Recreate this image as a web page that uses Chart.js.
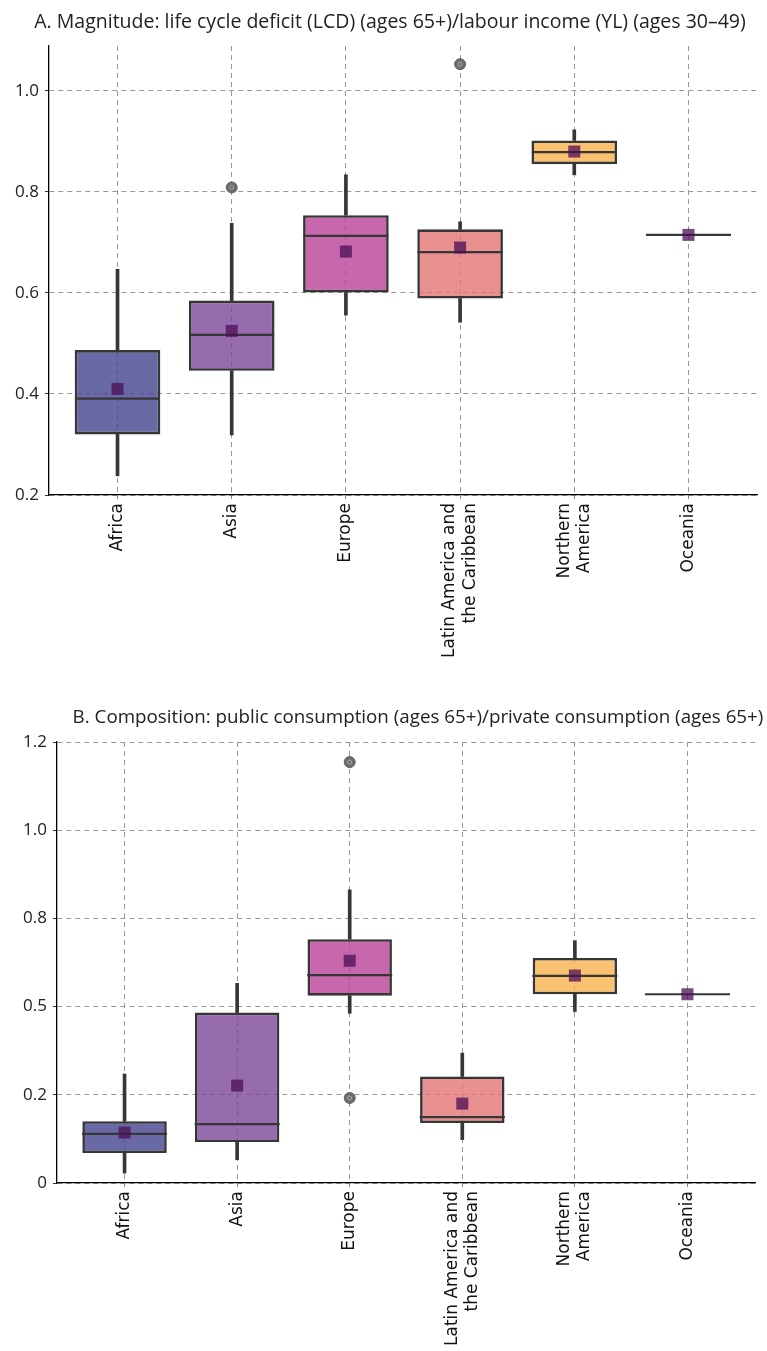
<!DOCTYPE html>
<html>
<head>
<meta charset="utf-8">
<script src="https://cdn.jsdelivr.net/npm/chart.js@4.4.1/dist/chart.umd.min.js"></script>
<style>
  html, body { margin: 0; padding: 0; background: #fff; }
  #wrap { position: relative; width: 767px; height: 1351px; }
  .panel { position: absolute; left: 0; width: 767px; }
</style>
</head>
<body>
<div id="wrap">
  <div class="panel" style="top:0;height:680px"><canvas id="chartA" width="767" height="680"></canvas></div>
  <div class="panel" style="top:680px;height:671px"><canvas id="chartB" width="767" height="671"></canvas></div>
</div>
<script>
// categories
const regions = ['Africa', 'Asia', 'Europe', ['Latin America and', 'the Caribbean'], ['Northern', 'America'], 'Oceania'];
const boxColors = ['rgba(68,69,143,0.8)', 'rgba(124,71,155,0.8)', 'rgba(188,65,153,0.8)',
                   'rgba(227,116,116,0.8)', 'rgba(249,177,76,0.8)', 'rgba(150,150,150,0.8)'];

// A. Magnitude: LCD (65+) / YL (30-49)
const magTitle = 'A. Magnitude: life cycle deficit (LCD) (ages 65+)/labour income (YL) (ages 30\u201349)';
const magMin    = [0.238, 0.319, 0.556, 0.542, 0.834, 0.715];
const magQ1     = [0.320, 0.446, 0.601, 0.589, 0.855, 0.715];
const magMedian = [0.391, 0.517, 0.713, 0.681, 0.879, 0.715];
const magQ3     = [0.487, 0.585, 0.754, 0.726, 0.902, 0.715];
const magMax    = [0.647, 0.738, 0.834, 0.741, 0.923, 0.715];
const magMean   = [0.410, 0.525, 0.682, 0.690, 0.880, 0.715];
const magOutliers = [[], [0.809], [], [1.053], [], []];
const magTicks = [0.2, 0.4, 0.6, 0.8, 1.0];
const magTickLabels = ['0.2', '0.4', '0.6', '0.8', '1.0'];

// B. Composition: public consumption (65+) / private consumption (65+)
const compTitle = 'B. Composition: public consumption (ages 65+)/private consumption (ages 65+)';
const compMin    = [0.028, 0.066, 0.481, 0.123, 0.486, 0.535];
const compQ1     = [0.085, 0.116, 0.531, 0.170, 0.535, 0.535];
const compMedian = [0.139, 0.167, 0.589, 0.187, 0.587, 0.535];
const compQ3     = [0.175, 0.483, 0.691, 0.302, 0.638, 0.535];
const compMax    = [0.309, 0.566, 0.831, 0.368, 0.687, 0.535];
const compMean   = [0.143, 0.276, 0.630, 0.225, 0.588, 0.535];
const compOutliers = [[], [], [0.241, 1.193], [], [], []];
const compTicks = [0, 0.25, 0.5, 0.75, 1.0, 1.25];
const compTickLabels = ['0', '0.2', '0.5', '0.8', '1.0', '1.2'];

const EDGE = '#363636';
const GRID = '#9d9696';
const LABEL_SIZE = 17;

// draws the panel heading at a given spot
const panelTitle = {
    id: 'panelTitle',
    afterDraw(chart, args, opts) {
        const ctx = chart.ctx;
        ctx.save();
        ctx.font = opts.font;
        ctx.fillStyle = '#222';
        ctx.textAlign = 'center';
        ctx.textBaseline = 'middle';
        ctx.fillText(opts.text, opts.x, opts.y);
        ctx.restore();
    }
};

function noPad(sc) {
    sc.paddingLeft = 0; sc.paddingRight = 0; sc.paddingTop = 0; sc.paddingBottom = 0;
}

function makePanel(id, s) {
    const idx = regions.map((r, i) => i);
    const outPts = [];
    s.outliers.forEach((list, i) => list.forEach(v => outPts.push({x: i, y: v})));

    const datasets = [
        {   // boxes q1..q3
            type: 'bar', order: 6, grouped: false,
            data: idx.map(i => ({x: i, y: [s.q1[i], s.q3[i]]})),
            backgroundColor: boxColors, borderColor: EDGE, borderWidth: 2.6,
            borderSkipped: false, barPercentage: 0.75, categoryPercentage: 1
        },
        {   // lower whiskers
            type: 'bar', order: 5, grouped: false,
            data: idx.map(i => ({x: i, y: [s.min[i], s.q1[i]]})),
            backgroundColor: EDGE, borderWidth: 0, barThickness: 3
        },
        {   // upper whiskers
            type: 'bar', order: 5, grouped: false,
            data: idx.map(i => ({x: i, y: [s.q3[i], s.max[i]]})),
            backgroundColor: EDGE, borderWidth: 0, barThickness: 3
        },
        {   // medians
            type: 'scatter', order: 4,
            data: idx.map(i => ({x: i, y: s.median[i]})),
            pointStyle: 'line', pointRadius: 42.5, borderColor: EDGE, borderWidth: 2.2
        },
        {   // outliers
            type: 'scatter', order: 3,
            data: outPts,
            pointStyle: 'circle', pointRadius: 5.5, backgroundColor: '#6d6d6d',
            borderColor: '#5f5f5f', borderWidth: 1
        },
        {   // outlier inner ring
            type: 'scatter', order: 2,
            data: outPts,
            pointStyle: 'circle', pointRadius: 2, backgroundColor: 'rgba(0,0,0,0)',
            borderColor: '#a8a8a8', borderWidth: 1
        },
        {   // means
            type: 'scatter', order: 1,
            data: idx.map(i => ({x: i, y: s.mean[i]})),
            pointStyle: 'rect', pointRadius: 8.5, backgroundColor: 'rgba(75,15,85,0.75)', borderWidth: 0
        }
    ];

    return new Chart(document.getElementById(id), {
        type: 'bar',
        data: {datasets: datasets},
        plugins: [panelTitle],
        options: {
            responsive: false,
            animation: false,
            devicePixelRatio: 1,
            layout: {autoPadding: false, padding: {top: s.top, right: s.right, left: 0, bottom: 0}},
            plugins: {
                legend: {display: false},
                tooltip: {enabled: false},
                panelTitle: {text: s.title, x: s.titleX, y: s.titleY, font: s.titleFont}
            },
            scales: {
                // grid, spine and tick marks
                x: {
                    type: 'linear', min: -0.6, max: 5.6, offset: false,
                    afterBuildTicks: sc => { sc.ticks = idx.map(i => ({value: i})); },
                    afterFit: sc => { sc.height = 0; noPad(sc); },
                    ticks: {display: false},
                    grid: {color: GRID, lineWidth: 1, offset: false, tickLength: 4, tickColor: '#888'},
                    border: {display: true, color: '#000', width: 1.3, dash: [5, 4]}
                },
                // category names only, two-line names centred on their tick
                xLabels: {
                    type: 'linear', position: 'bottom', min: -0.6, max: 5.6, offset: false,
                    afterBuildTicks: sc => { sc.ticks = idx.map(i => ({value: i})); },
                    afterFit: sc => {
                        sc.height = s.xHeight; noPad(sc);
                        const perUnit = sc.width / (sc.max - sc.min);
                        const half = LABEL_SIZE * 1.2 / 2;
                        sc.ticks.forEach((t, i) => {
                            if (Array.isArray(regions[i])) t.value = i - half / perUnit;
                        });
                    },
                    ticks: {
                        callback: (v, i) => regions[i],
                        minRotation: 90, maxRotation: 90, autoSkip: false,
                        color: '#111', padding: 8,
                        font: {family: 'DejaVu Sans', size: LABEL_SIZE}
                    },
                    grid: {display: false, drawTicks: false},
                    border: {display: false}
                },
                y: {
                    type: 'linear', min: s.yMin, max: s.yMax, beginAtZero: false,
                    afterBuildTicks: sc => { sc.ticks = s.ticks.map(v => ({value: v})); },
                    afterFit: sc => { sc.width = s.yWidth; noPad(sc); },
                    ticks: {
                        callback: (v, i) => s.tickLabels[i],
                        color: '#222', padding: 6,
                        font: {family: 'Open Sans', size: 17}
                    },
                    grid: {color: GRID, lineWidth: 1, tickLength: 4, tickColor: '#333'},
                    border: {display: true, color: '#000', width: 1.3, dash: [5, 4]}
                }
            }
        }
    });
}

makePanel('chartA', {
    title: magTitle, titleX: 390, titleY: 22, titleFont: '19.5px "Open Sans"',
    min: magMin, q1: magQ1, median: magMedian, q3: magQ3, max: magMax, mean: magMean, outliers: magOutliers,
    ticks: magTicks, tickLabels: magTickLabels, yMin: 0.2, yMax: 1.089,
    top: 46, right: 10, yWidth: 49, xHeight: 185
});

makePanel('chartB', {
    title: compTitle, titleX: 418, titleY: 38, titleFont: '18.8px "Open Sans"',
    min: compMin, q1: compQ1, median: compMedian, q3: compQ3, max: compMax, mean: compMean, outliers: compOutliers,
    ticks: compTicks, tickLabels: compTickLabels, yMin: 0, yMax: 1.25,
    top: 62, right: 12, yWidth: 57, xHeight: 168
});
</script>
</body>
</html>
